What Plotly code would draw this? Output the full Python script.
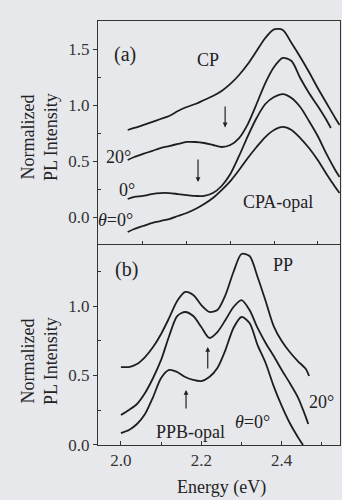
import plotly.graph_objects as go

# ---------------- data: panel (a) ----------------
energy_a = [1.965, 1.98, 2.00, 2.02, 2.04, 2.06, 2.08, 2.10, 2.12, 2.14, 2.16, 2.18, 2.20,
            2.22, 2.24, 2.26, 2.28, 2.30, 2.32, 2.34, 2.36, 2.38, 2.40, 2.42, 2.44, 2.45]
cp = [0.777, 0.795, 0.821, 0.848, 0.875, 0.902, 0.946, 0.982, 1.009, 1.045, 1.080, 1.125, 1.188,
      1.268, 1.366, 1.482, 1.598, 1.675, 1.670, 1.554, 1.429, 1.295, 1.152, 1.018, 0.884, 0.821]
opal_20 = [0.509, 0.536, 0.563, 0.589, 0.616, 0.634, 0.652, 0.670, 0.670, 0.661, 0.643, 0.625, 0.643,
           0.705, 0.830, 1.009, 1.196, 1.339, 1.420, 1.393, 1.241, 1.107, 0.991, 0.866]
energy_a20_end = [2.43]
opal_20_end = [0.795]
opal_0 = [0.161, 0.179, 0.188, 0.205, 0.214, 0.214, 0.205, 0.196, 0.188, 0.188, 0.214, 0.277, 0.384,
          0.545, 0.723, 0.884, 1.009, 1.071, 1.098, 1.063, 0.982, 0.857, 0.723, 0.563, 0.420, 0.357]
cpa_opal = [-0.134, -0.107, -0.080, -0.054, -0.036, -0.018, 0.009, 0.036, 0.071, 0.116, 0.170, 0.241,
            0.321, 0.420, 0.527, 0.625, 0.714, 0.777, 0.804, 0.777, 0.705, 0.616, 0.509, 0.384, 0.268, 0.214]

# ---------------- data: panel (b) ----------------
energy_b = [2.00, 2.02, 2.04, 2.06, 2.08, 2.10, 2.12, 2.14, 2.16, 2.18, 2.20, 2.22, 2.24,
            2.26, 2.28, 2.30, 2.32, 2.34, 2.36, 2.38, 2.40, 2.42, 2.44, 2.46]
pp = [0.561, 0.561, 0.583, 0.633, 0.705, 0.799, 0.914, 1.036, 1.101, 1.079, 1.007, 0.957, 0.971,
      1.079, 1.245, 1.374, 1.360, 1.209, 1.036, 0.856, 0.748, 0.669, 0.604, 0.547]
pp_end_e = [2.468]
pp_end_v = [0.496]
ppb_20 = [0.216, 0.252, 0.295, 0.374, 0.482, 0.612, 0.784, 0.928, 0.957, 0.928, 0.849, 0.770, 0.813,
          0.899, 0.993, 1.043, 0.971, 0.842, 0.734, 0.640, 0.540, 0.446, 0.345, 0.201]
ppb_20_end_e = [2.466]
ppb_20_end_v = [0.151]
ppb_0 = [0.086, 0.108, 0.151, 0.223, 0.345, 0.482, 0.540, 0.525, 0.489, 0.468, 0.460, 0.489, 0.554,
         0.683, 0.842, 0.921, 0.878, 0.719, 0.590, 0.424, 0.281, 0.158, 0.058]
ppb_0_end_e = [2.453]
ppb_0_end_v = [0.0]

ytick_a = [0.0, 0.5, 1.0, 1.5]
ytick_b = [0.0, 0.5, 1.0]
xtick_b = [2.0, 2.2, 2.4]

LINE = dict(color="#1e1e1e", width=1.8, shape="spline", smoothing=0.8)
FONT = "Liberation Serif, Times New Roman, serif"
BG = "#e7e8ec"

fig = go.Figure()
# panel (a) on xaxis2 / yaxis2
fig.add_trace(go.Scatter(x=energy_a, y=cp, mode="lines", line=LINE, xaxis="x2", yaxis="y2"))
fig.add_trace(go.Scatter(x=energy_a[:len(opal_20)] + energy_a20_end, y=opal_20 + opal_20_end,
                         mode="lines", line=LINE, xaxis="x2", yaxis="y2"))
fig.add_trace(go.Scatter(x=energy_a, y=opal_0, mode="lines", line=LINE, xaxis="x2", yaxis="y2"))
fig.add_trace(go.Scatter(x=energy_a, y=cpa_opal, mode="lines", line=LINE, xaxis="x2", yaxis="y2"))
# panel (b)
fig.add_trace(go.Scatter(x=energy_b + pp_end_e, y=pp + pp_end_v, mode="lines", line=LINE))
fig.add_trace(go.Scatter(x=energy_b + ppb_20_end_e, y=ppb_20 + ppb_20_end_v, mode="lines", line=LINE))
fig.add_trace(go.Scatter(x=energy_b[:len(ppb_0)] + ppb_0_end_e, y=ppb_0 + ppb_0_end_v,
                         mode="lines", line=LINE))

axis_common = dict(showline=True, mirror=True, linecolor="#333", linewidth=1, showgrid=False,
                   zeroline=False, tickcolor="#333", tickfont=dict(family=FONT, size=17, color="#333"))

fig.update_layout(
    width=342, height=500, showlegend=False,
    margin=dict(l=98, r=2, t=21, b=55),
    paper_bgcolor=BG, plot_bgcolor=BG,
    font=dict(family=FONT, size=18, color="#222"),
    xaxis=dict(axis_common, range=[1.943, 2.545], tickvals=xtick_b, ticktext=["2.0", "2.2", "2.4"],
               ticks="inside", ticklen=4, anchor="y",
               minor=dict(tickvals=[2.1, 2.3, 2.5], ticks="inside", ticklen=3, tickcolor="#333")),
    yaxis=dict(axis_common, domain=[0, 0.4717], range=[0, 1.439], tickvals=ytick_b,
               tickformat=".1f", ticks="outside", ticklen=4, anchor="x",
               minor=dict(tickvals=[0.25, 0.75, 1.25], ticks="inside", ticklen=3, tickcolor="#333")),
    xaxis2=dict(axis_common, range=[1.897, 2.451], tickvals=[2.0, 2.1, 2.2, 2.3, 2.4],
                showticklabels=False, ticks="inside", ticklen=3, anchor="y2"),
    yaxis2=dict(axis_common, domain=[0.474, 1], range=[-0.241, 1.75], tickvals=ytick_a,
                tickformat=".1f", ticks="outside", ticklen=4, anchor="x2",
                minor=dict(tickvals=[-0.25, 0.25, 0.75, 1.25], ticks="inside", ticklen=3, tickcolor="#333")),
)

def txt(x, y, s, xr, yr, size=18, **kw):
    fig.add_annotation(x=x, y=y, text=s, xref=xr, yref=yr, showarrow=False,
                       font=dict(family=FONT, size=size, color="#222"), **kw)

# panel (a) labels
txt(1.959, 1.45, "(a)", "x2", "y2", size=20)
txt(2.149, 1.40, "CP", "x2", "y2")
txt(2.309, 0.134, "CPA-opal", "x2", "y2")
txt(1.943, 0.54, "20°", "x2", "y2")
txt(1.963, 0.241, "0°", "x2", "y2")
txt(1.938, -0.027, "<i>θ</i>=0°", "x2", "y2")
# panel (b) labels
txt(2.015, 1.26, "(b)", "x", "y", size=20)
txt(2.403, 1.295, "PP", "x", "y")
txt(2.498, 0.309, "20°", "x", "y")
txt(2.328, 0.165, "<i>θ</i>=0°", "x", "y")
txt(2.172, 0.094, "PPB-opal", "x", "y")

# arrows
def arrow(x, y_tail, y_head, xr, yr):
    fig.add_annotation(x=x, y=y_head, ax=x, ay=y_tail, xref=xr, yref=yr, axref=xr, ayref=yr,
                       text="", showarrow=True, arrowhead=2, arrowsize=0.8, arrowwidth=1.2,
                       arrowcolor="#222")

arrow(2.188, 1.00, 0.80, "x2", "y2")
arrow(2.126, 0.527, 0.313, "x2", "y2")
arrow(2.216, 0.540, 0.705, "x", "y")
arrow(2.162, 0.252, 0.396, "x", "y")

# axis titles
for ycen in [0.48 * 0.526 + 0.474, 0.42 * 0.4717]:
    fig.add_annotation(x=0, y=ycen, xref="paper", yref="paper", xshift=-58, showarrow=False,
                       text="Normalized<br>PL Intensity", textangle=-90,
                       font=dict(family=FONT, size=18, color="#222"), xanchor="center", yanchor="middle")
fig.add_annotation(x=0.512, y=0, xref="paper", yref="paper", yshift=-42, showarrow=False,
                   text="Energy (eV)", font=dict(family=FONT, size=18, color="#222"),
                   xanchor="center", yanchor="middle")

fig.write_html("out.html")
